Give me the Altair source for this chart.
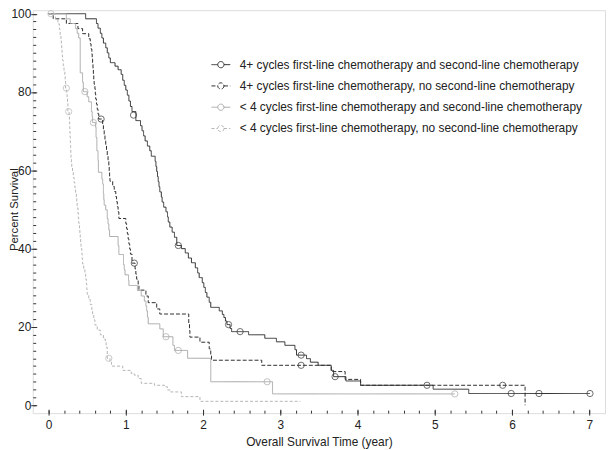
import altair as alt
import pandas as pd

names = [
    "4+ cycles first-line chemotherapy and second-line chemotherapy",
    "4+ cycles first-line chemotherapy, no second-line chemotherapy",
    "< 4 cycles first-line chemotherapy and second-line chemotherapy",
    "< 4 cycles first-line chemotherapy, no second-line chemotherapy",
]
colors = ["#2e2e2e", "#2e2e2e", "#a8a8a8", "#b4b4b4"]
dashes = [[1, 0], [4, 2], [1, 0], [3, 2]]

# Series A: 4+ cycles, with second-line (solid dark)
a_t = [0, 0.48, 0.62, 0.64, 0.67, 0.69, 0.71, 0.74, 0.76, 0.78, 0.80, 0.86, 0.90, 0.94, 0.96,
       0.98, 1.00, 1.02, 1.04, 1.06, 1.08, 1.13, 1.19, 1.21, 1.23, 1.25, 1.28, 1.31, 1.33, 1.38,
       1.39, 1.40, 1.41, 1.42, 1.43, 1.44, 1.46, 1.47, 1.49, 1.52, 1.54, 1.55, 1.57, 1.60, 1.63,
       1.66, 1.72, 1.77, 1.81, 1.85, 1.90, 1.93, 1.95, 1.99, 2.01, 2.03, 2.05, 2.08, 2.10, 2.21,
       2.25, 2.27, 2.29, 2.31, 2.35, 2.37, 2.59, 2.80, 2.95, 3.06, 3.19, 3.21, 3.34, 3.39, 3.49,
       3.66, 3.69, 3.85, 4.04, 4.98, 5.44, 7.01]
a_s = [100, 98.7, 97.5, 96.3, 95.0, 93.8, 92.5, 91.3, 90.0, 88.7, 87.5, 86.6, 85.7, 84.5, 83.0,
       81.7, 80.5, 79.2, 77.7, 76.3, 75.0, 72.7, 71.4, 70.1, 68.8, 67.5, 66.2, 65.0, 63.6, 62.3,
       61.0, 59.7, 58.4, 57.1, 55.8, 54.5, 53.2, 51.9, 50.6, 49.4, 48.1, 46.8, 45.5, 44.2, 42.9,
       40.8, 40.0, 38.9, 37.6, 36.4, 35.1, 33.8, 32.6, 31.3, 30.1, 28.8, 27.6, 26.3, 25.0, 24.1,
       23.2, 22.4, 21.5, 20.6, 19.6, 18.8, 18.0, 17.1, 16.2, 15.3, 14.2, 12.8, 11.9, 11.0, 10.2,
       8.9, 7.3, 6.2, 5.1, 4.1, 3.0, 3.0]
a_ct = [1.10, 1.68, 2.33, 2.48, 3.27, 3.71, 5.99, 6.35, 7.01]
a_cs = [74.1, 40.8, 20.6, 18.8, 12.8, 7.3, 3.0, 3.0, 3.0]

# Series B: 4+ cycles, no second-line (dashed dark)
b_t = [0, 0.06, 0.23, 0.38, 0.44, 0.52, 0.54, 0.55, 0.56, 0.565, 0.57, 0.575, 0.58, 0.585, 0.59,
       0.60, 0.605, 0.61, 0.62, 0.63, 0.64, 0.65, 0.70, 0.71, 0.72, 0.73, 0.74, 0.75, 0.76, 0.77,
       0.78, 0.785, 0.79, 0.795, 0.83, 0.85, 0.87, 0.88, 0.89, 0.90, 0.91, 1.00, 1.01, 1.02, 1.03,
       1.04, 1.05, 1.06, 1.08, 1.12, 1.13, 1.14, 1.16, 1.17, 1.26, 1.29, 1.40, 1.44, 1.815, 1.825,
       1.83, 1.96, 2.08, 2.10, 2.11, 2.76, 3.66, 3.84, 4.04, 6.17]
b_s = [100, 98.7, 97.5, 96.2, 94.9, 93.6, 92.3, 91.0, 89.7, 88.5, 87.2, 85.9, 84.6, 83.3, 82.0,
       80.8, 79.5, 78.2, 76.9, 75.6, 74.4, 73.1, 71.5, 70.2, 68.9, 67.6, 66.3, 65.0, 63.7, 62.4,
       61.1, 59.8, 58.5, 57.2, 55.9, 54.6, 53.3, 52.0, 50.7, 49.4, 47.7, 46.4, 45.1, 43.8, 42.5,
       41.2, 39.9, 38.6, 36.3, 34.8, 33.5, 32.2, 30.9, 29.4, 27.9, 26.2, 24.6, 23.3, 20.8, 19.1,
       17.4, 16.1, 14.4, 12.9, 11.5, 10.2, 8.6, 6.6, 5.1, 0]
b_ct = [0.68, 1.11, 3.27, 4.90, 5.88]
b_cs = [73.1, 36.3, 10.2, 5.1, 5.1]

# Series C: <4 cycles, with second-line (solid light)
c_t = [0, 0.23, 0.28, 0.35, 0.37, 0.39, 0.41, 0.44, 0.45, 0.50, 0.52, 0.555, 0.565, 0.57, 0.61,
       0.615, 0.625, 0.64, 0.645, 0.69, 0.70, 0.71, 0.715, 0.72, 0.74, 0.76, 0.77, 0.78, 0.79,
       0.90, 0.91, 0.97, 0.98, 0.99, 1.035, 1.04, 1.15, 1.20, 1.24, 1.26, 1.27, 1.28, 1.29, 1.44,
       1.485, 1.61, 1.63, 1.80, 2.10, 2.90, 5.26]
c_s = [100, 98.7, 97.5, 96.2, 95.0, 93.8, 84.9, 82.5, 80.1, 78.8, 77.5, 75.0, 73.7, 72.2, 71.0,
       68.4, 65.0, 62.5, 59.5, 57.8, 56.5, 54.0, 52.5, 51.1, 49.9, 47.7, 46.3, 44.8, 43.1,
       40.8, 38.5, 35.9, 34.6, 33.3, 31.9, 30.6, 29.3, 27.9, 26.6, 25.3, 24.1, 22.5, 20.8, 19.5,
       17.5, 15.3, 14.0, 12.0, 6.0, 2.9, 2.9]
c_ct = [0.47, 0.58, 1.52, 1.68, 2.83, 5.26]
c_cs = [80.1, 72.2, 17.5, 14.0, 6.0, 2.9]

# Series D: <4 cycles, no second-line (dashed light)
d_t = [0, 0.09, 0.12, 0.14, 0.15, 0.16, 0.165, 0.17, 0.175, 0.18, 0.19, 0.20, 0.21, 0.215, 0.22,
       0.235, 0.24, 0.245, 0.25, 0.265, 0.27, 0.273, 0.276, 0.279, 0.282, 0.285, 0.288, 0.29,
       0.295, 0.30, 0.31, 0.32, 0.33, 0.34, 0.35, 0.36, 0.365, 0.37, 0.38, 0.385, 0.39, 0.40,
       0.405, 0.41, 0.415, 0.42, 0.43, 0.435, 0.44, 0.455, 0.47, 0.48, 0.49, 0.495, 0.50, 0.52,
       0.54, 0.56, 0.57, 0.585, 0.60, 0.63, 0.67, 0.71, 0.735, 0.745, 0.76, 0.795, 0.815, 0.96,
       1.07, 1.11, 1.16, 1.20, 1.37, 1.50, 1.54, 1.58, 1.72, 1.96, 3.26]
d_s = [100, 98.7, 97.4, 96.0, 94.6, 93.3, 92.0, 90.7, 89.4, 88.1, 86.8, 85.5, 84.2, 82.9, 81.0,
       79.7, 78.4, 77.1, 75.0, 73.7, 72.4, 71.0, 69.7, 68.4, 67.1, 65.8, 64.5, 63.2,
       62.0, 60.8, 59.5, 58.2, 56.9, 55.6, 54.3, 53.0, 51.7, 50.4, 49.1, 47.8, 46.5, 45.2,
       43.9, 42.6, 41.3, 40.0, 38.7, 37.4, 36.1, 34.8, 33.5, 32.2, 30.9, 29.6, 28.3, 27.0,
       25.7, 24.4, 23.1, 21.8, 20.5, 19.2, 18.0, 16.9, 16.0, 14.8, 12.0, 11.0, 10.0, 8.9,
       8.1, 7.7, 6.8, 5.6, 5.1, 4.7, 3.9, 3.4, 2.2, 1.0, 1.0]
d_ct = [0.03, 0.23, 0.26, 0.78]
d_cs = [100, 81.0, 75.0, 12.0]

x_major = [0, 1, 2, 3, 4, 5, 6, 7]
y_major = [0, 20, 40, 60, 80, 100]
x_minor = [round(i * 0.2, 1) for i in range(36)]
y_minor = list(range(0, 101, 2))

curves = [(a_t, a_s), (b_t, b_s), (c_t, c_s), (d_t, d_s)]
cens = [(a_ct, a_cs), (b_ct, b_cs), (c_ct, c_cs), (d_ct, d_cs)]

rows = []
for k, (ts, ss) in enumerate(curves):
    for i, (t, s) in enumerate(zip(ts, ss)):
        rows.append({"series": names[k], "t": t, "s": s, "o": i})
line_df = pd.DataFrame(rows)

prow = []
for k, (ts, ss) in enumerate(cens):
    for t, s in zip(ts, ss):
        prow.append({"series": names[k], "t": t, "s": s})
pt_df = pd.DataFrame(prow)

FONT = "Liberation Sans"
xs = alt.Scale(domain=[-0.205, 7.205], nice=False, zero=False)
ys = alt.Scale(domain=[-2.02, 100.9], nice=False, zero=False)

r = 0.33
sym = (f"M-1,0L-{r},0M{r},0L1,0M{r},0A{r},{r},0,1,1,-{r},0A{r},{r},0,1,1,{r},0")


def make_legend():
    return alt.Legend(
        title=None, orient="none", legendX=180, legendY=45, symbolType=sym,
        symbolSize=361, symbolStrokeWidth=1, labelFont=FONT, labelFontSize=12,
        labelColor="#222", labelLimit=500, labelOffset=9, rowPadding=5.5, padding=0,
    )


color_enc = alt.Color("series:N", scale=alt.Scale(domain=names, range=colors), legend=make_legend())
dash_enc = alt.StrokeDash("series:N", scale=alt.Scale(domain=names, range=dashes), legend=make_legend())

lines = alt.Chart(line_df).mark_line(interpolate="step-after", strokeWidth=1).encode(
    x=alt.X("t:Q", scale=xs, axis=alt.Axis(
        values=x_major, format="d", tickSize=6, offset=-4, domain=False, grid=False,
        labelPadding=5, labelFont=FONT, labelFontSize=12, labelColor="#222",
        tickColor="#333", title="Overall Survival Time (year)", titleFont=FONT,
        titleFontSize=12, titleFontWeight="normal", titleColor="#222",
        titleBaseline="alphabetic", titleY=37, orient="bottom")),
    y=alt.Y("s:Q", scale=ys, axis=alt.Axis(
        values=y_major, format="d", tickSize=6, offset=-4, domain=False, grid=False,
        labelPadding=0, labelFont=FONT, labelFontSize=12, labelColor="#222",
        tickColor="#333", title="Percent Survival", titleFont=FONT,
        titleFontSize=11.5, titleFontWeight="normal", titleColor="#222",
        titleX=-22.5, titleY=201, titleAngle=270, titleBaseline="middle",
        titleAlign="center", orient="left")),
    color=color_enc,
    strokeDash=dash_enc,
    detail="series:N",
    order="o:Q",
)

points = alt.Chart(pt_df).mark_point(shape="circle", size=40, filled=False, strokeWidth=1).encode(
    x=alt.X("t:Q", scale=xs, axis=alt.Axis(
        values=x_minor, labels=False, title=None, tickSize=3, offset=-3, domain=False,
        grid=False, tickColor="#333", orient="bottom")),
    y=alt.Y("s:Q", scale=ys, axis=alt.Axis(
        values=y_minor, labels=False, title=None, tickSize=3, offset=-3, domain=False,
        grid=False, tickColor="#333", orient="left")),
    color=alt.Color("series:N", scale=alt.Scale(domain=names, range=colors), legend=None),
)

chart = alt.layer(lines, points).resolve_axis(x="independent", y="independent").properties(
    width=578, height=407, autosize="none",
    padding={"left": 25, "top": 0, "right": 2, "bottom": 35},
).configure_view(stroke="#333", strokeWidth=1).configure(background="white")

chart.save("out.html", embed_options={"renderer": "svg", "actions": False})
